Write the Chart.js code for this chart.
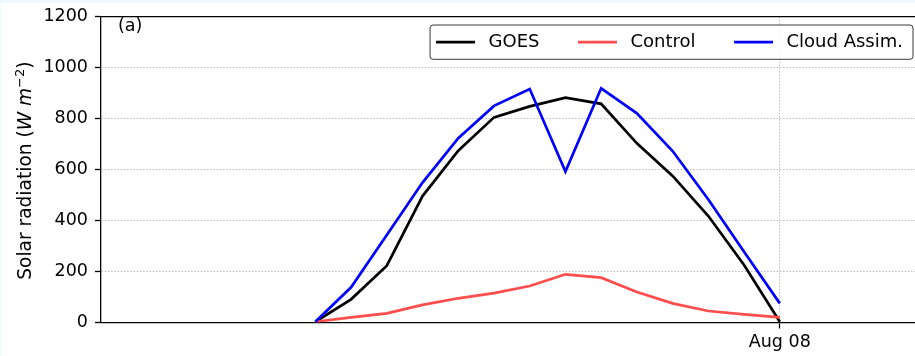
<!DOCTYPE html>
<html>
<head>
<meta charset="utf-8">
<title>Solar radiation</title>
<script src="https://cdn.jsdelivr.net/npm/chart.js@4.4.1/dist/chart.umd.min.js"></script>
<style>
  html, body { margin: 0; padding: 0; overflow: hidden; background: #eef9fe; }
  #solarChart { position: absolute; left: 1px; top: 3px; background: #fff; }
</style>
</head>
<body>
<canvas id="solarChart" width="926" height="353"></canvas>
<script>
// hours relative to Aug 08 00:00
const hours = [-13, -12, -11, -10, -9, -8, -7, -6, -5, -4, -3, -2, -1, 0];
const goes = [3, 91, 223, 496, 674, 805, 848, 882, 858, 703, 575, 418, 226, 3];
const control = [3, 20, 36, 69, 95, 115, 143, 189, 176, 120, 75, 45, 32, 20];
const cloudAssim = [3, 138, 343, 549, 723, 850, 916, 592, 919, 821, 673, 483, 278, 75];

const xTicks = [0];
const xTickLabels = ["Aug 08"];
const yTicks = [0, 200, 400, 600, 800, 1000, 1200];

const FONT = '"DejaVu Sans", "Liberation Sans", sans-serif';
const FS = 17.5;
const TITLE_FS = 18.6;
const LEGEND_FS = 18;

const toPoints = (vals) => vals.map((v, i) => ({ x: hours[i], y: v }));

// axis title with italic units and superscript
const yTitle = {
  id: "yTitle",
  afterDraw(chart) {
    const { ctx, chartArea } = chart;
    const parts = [
      { text: "Solar radiation (", font: `${TITLE_FS}px ${FONT}`, dy: 0 },
      { text: "W m", font: `italic ${TITLE_FS}px ${FONT}`, dy: 0 },
      { text: "\u22122", font: `${TITLE_FS * 0.7}px ${FONT}`, dy: -7.5 },
      { text: ")", font: `${TITLE_FS}px ${FONT}`, dy: 0 },
    ];
    let total = 0;
    parts.forEach((p) => {
      ctx.font = p.font;
      p.w = ctx.measureText(p.text).width;
      total += p.w;
    });
    ctx.save();
    ctx.translate(30, (chartArea.top + chartArea.bottom) / 2 + 1);
    ctx.rotate(-Math.PI / 2);
    ctx.fillStyle = "#000";
    ctx.textBaseline = "alphabetic";
    ctx.textAlign = "left";
    let x = -total / 2;
    parts.forEach((p) => {
      ctx.font = p.font;
      ctx.fillText(p.text, x, p.dy);
      x += p.w;
    });
    ctx.restore();
  },
};

// top spine, panel tag and boxed legend
const decorations = {
  id: "decorations",
  afterDatasetsDraw(chart) {
    const { ctx, chartArea } = chart;
    ctx.save();
    ctx.strokeStyle = "#000";
    ctx.lineWidth = 1.3;
    ctx.beginPath();
    ctx.moveTo(chartArea.left, chartArea.top);
    ctx.lineTo(chartArea.right, chartArea.top);
    ctx.stroke();

    ctx.font = `${FS}px ${FONT}`;
    ctx.fillStyle = "#000";
    ctx.textBaseline = "middle";
    ctx.fillText("(a)", 117, 23.5);

    // legend
    ctx.font = `${LEGEND_FS}px ${FONT}`;
    const handle = 39, gap = 13.5, spacing = 38.5, padL = 6, padR = 10;
    const items = chart.data.datasets.map((ds) => ({
      label: ds.label,
      color: ds.borderColor,
      w: ctx.measureText(ds.label).width,
    }));
    let inner = 0;
    items.forEach((it, i) => {
      inner += handle + gap + it.w + (i < items.length - 1 ? spacing : 0);
    });
    const boxW = inner + padL + padR;
    const boxH = 34.3;
    const boxR = chartArea.right - 9.7;
    const boxL = boxR - boxW;
    const boxT = chartArea.top + 8.3;
    ctx.beginPath();
    ctx.roundRect(boxL, boxT, boxW, boxH, 3);
    ctx.fillStyle = "rgba(255,255,255,0.85)";
    ctx.fill();
    ctx.strokeStyle = "#3a3a3a";
    ctx.lineWidth = 1;
    ctx.stroke();

    const cy = boxT + boxH / 2;
    let x = boxL + padL;
    items.forEach((it) => {
      ctx.strokeStyle = it.color;
      ctx.lineWidth = 2.7;
      ctx.beginPath();
      ctx.moveTo(x, cy);
      ctx.lineTo(x + handle, cy);
      ctx.stroke();
      x += handle + gap;
      ctx.fillStyle = "#000";
      ctx.fillText(it.label, x, cy);
      x += it.w + spacing;
    });
    ctx.restore();
  },
};

new Chart(document.getElementById("solarChart"), {
  type: "line",
  data: {
    datasets: [
      { label: "GOES", data: toPoints(goes), borderColor: "#000000", order: 2 },
      { label: "Control", data: toPoints(control), borderColor: "#ff4d4d", order: 1 },
      { label: "Cloud Assim.", data: toPoints(cloudAssim), borderColor: "#0000ff", order: 0 },
    ],
  },
  options: {
    responsive: false,
    animation: false,
    devicePixelRatio: 1,
    layout: { padding: { left: 0, right: 4.3, top: 13.7, bottom: 0 } },
    elements: {
      line: { borderWidth: 2.7, tension: 0, fill: false },
      point: { radius: 0 },
    },
    plugins: {
      legend: { display: false },
      tooltip: { enabled: false },
    },
    scales: {
      x: {
        type: "linear",
        min: -19,
        max: 4,
        afterBuildTicks: (scale) => {
          scale.ticks = xTicks.map((v) => ({ value: v }));
        },
        afterFit: (scale) => {
          scale.height = 33.5;
          scale.paddingLeft = 0;
          scale.paddingRight = 0;
        },
        ticks: {
          color: "#000",
          font: { family: FONT, size: FS },
          padding: 3,
          maxRotation: 0,
          callback: (value) => xTickLabels[xTicks.indexOf(value)],
        },
        grid: {
          color: "#b0b0b0",
          lineWidth: 0.8,
          tickColor: "#000",
          tickWidth: 1.3,
          tickLength: 6,
        },
        border: { color: "#000", width: 1.3, dash: [1.6, 1.6] },
      },
      y: {
        min: 0,
        max: 1200,
        afterBuildTicks: (scale) => {
          scale.ticks = yTicks.map((v) => ({ value: v }));
        },
        afterFit: (scale) => {
          scale.width = 100;
          scale.paddingTop = 0;
          scale.paddingBottom = 0;
        },
        ticks: {
          color: "#000",
          font: { family: FONT, size: FS },
          padding: 7,
          callback: (value) => String(value),
        },
        grid: {
          color: (c) =>
            c.tick && (c.tick.value === 0 || c.tick.value === 1200) ? "rgba(0,0,0,0)" : "#b0b0b0",
          lineWidth: 0.8,
          tickColor: "#000",
          tickWidth: 1.3,
          tickLength: 6,
        },
        border: { color: "#000", width: 1.3, dash: [1.6, 1.6] },
      },
    },
  },
  plugins: [yTitle, decorations],
});
</script>
</body>
</html>
